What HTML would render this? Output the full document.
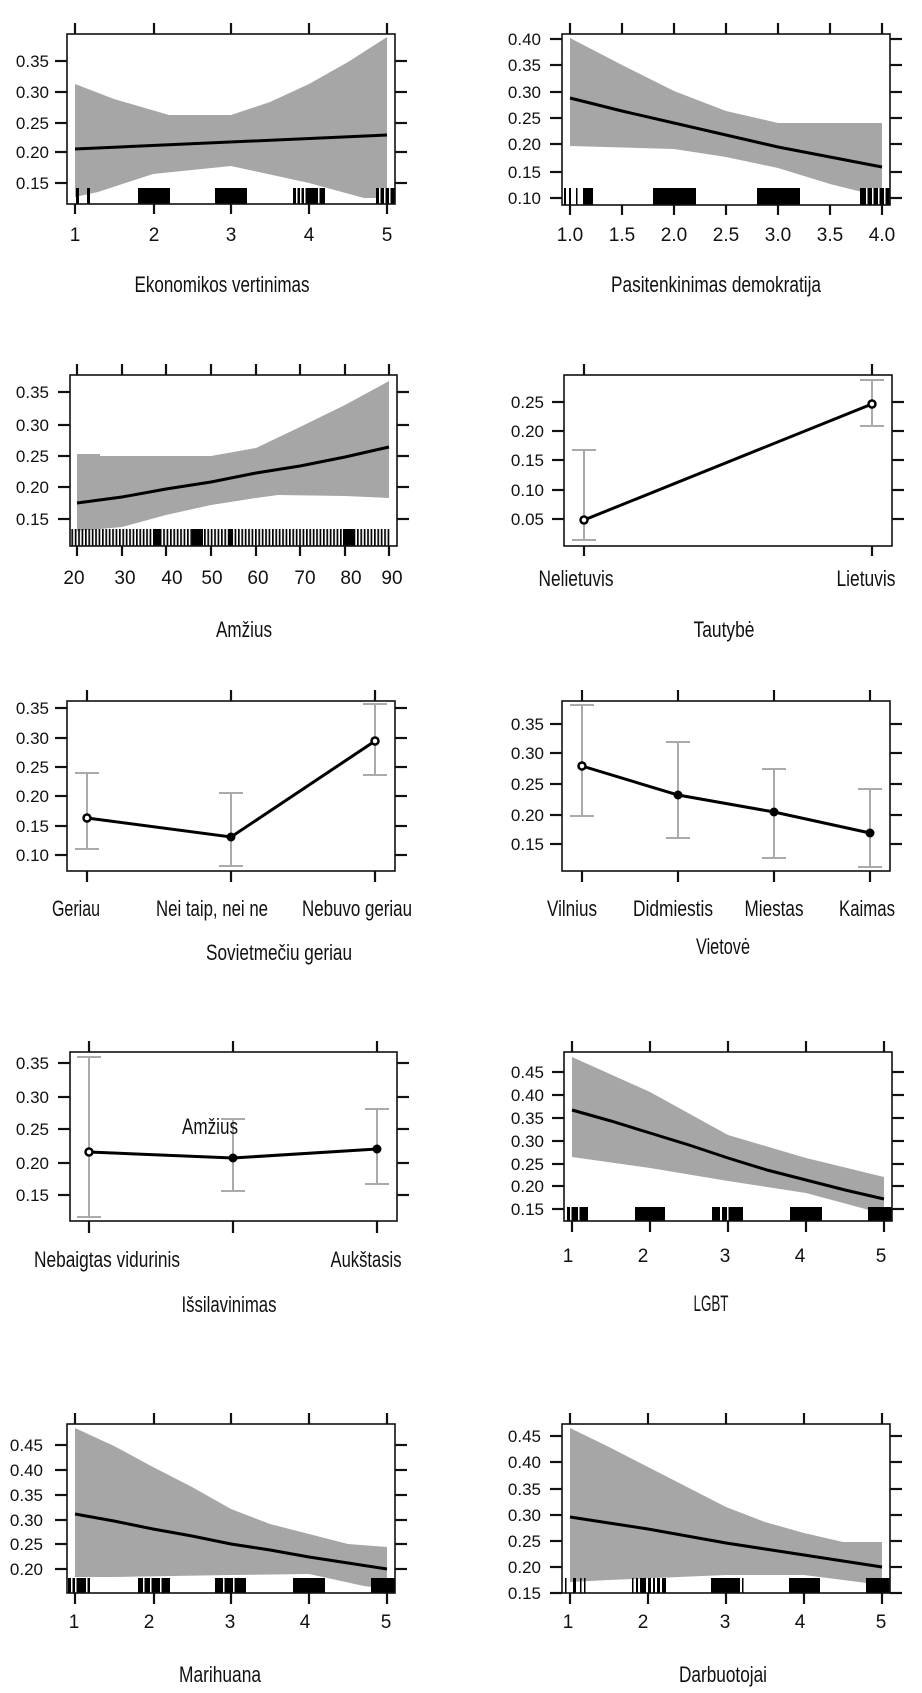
<!DOCTYPE html>
<html><head><meta charset="utf-8"><style>
html,body{margin:0;padding:0;background:#fff}
svg{display:block}
.t{font-family:"Liberation Sans",Arial,sans-serif;font-size:17px;fill:#111}
.x{font-family:"Liberation Sans",Arial,sans-serif;font-size:19px;fill:#111;text-anchor:middle}
.ti{font-family:"Liberation Sans",Arial,sans-serif;font-size:22px;fill:#111;text-anchor:middle}
.b{fill:none;stroke:#111;stroke-width:1.6}
.k{stroke:#111;stroke-width:2.2}
.band{fill:#a6a6a6;stroke:none}
.ln{fill:none;stroke:#000;stroke-width:3}
.eb{stroke:#aaa;stroke-width:2;fill:none}
.pt{fill:#fff;stroke:#000;stroke-width:2.5}
.ptf{fill:#000;stroke:#000;stroke-width:2}
.r{fill:#000}
</style></head><body>
<svg width="922" height="1693" viewBox="0 0 922 1693" xmlns="http://www.w3.org/2000/svg">
<defs><pattern id="st" x="0" y="0" width="3.4" height="20" patternUnits="userSpaceOnUse"><rect x="0" y="0" width="1.7" height="20" fill="#000"/></pattern></defs>

<!-- Panel 1 -->
<g>
<polygon class="band" points="75,84 114,99 169,115 231,115 270,102 309,84 348,62 387,37 387,198 364,198 309,183 231,166 153,174 98,192 75,197"/>
<polyline class="ln" points="75,149 387,135"/>
<g class="r"><rect x="76" y="188" width="3" height="16"/><rect x="87" y="188" width="3" height="16"/><rect x="138" y="188" width="32" height="16"/><rect x="215" y="188" width="32" height="16"/><rect x="293" y="188" width="32" height="16"/><rect x="376" y="188" width="19" height="16"/></g>
<g fill="#fff"><rect x="296" y="188" width="1.5" height="16"/><rect x="300" y="188" width="1.5" height="16"/><rect x="304" y="188" width="1.5" height="16"/><rect x="318" y="188" width="1.5" height="16"/><rect x="379" y="188" width="1.5" height="16"/><rect x="384" y="188" width="1.5" height="16"/><rect x="389" y="188" width="1.5" height="16"/></g>
<rect class="b" x="67" y="34" width="328" height="170"/>
<g class="k"><line x1="75" y1="23" x2="75" y2="34"/><line x1="154" y1="23" x2="154" y2="34"/><line x1="231" y1="23" x2="231" y2="34"/><line x1="309" y1="23" x2="309" y2="34"/><line x1="387" y1="23" x2="387" y2="34"/>
<line x1="75" y1="204" x2="75" y2="214"/><line x1="154" y1="204" x2="154" y2="214"/><line x1="231" y1="204" x2="231" y2="214"/><line x1="309" y1="204" x2="309" y2="214"/><line x1="387" y1="204" x2="387" y2="214"/>
<line x1="55" y1="61" x2="67" y2="61"/><line x1="55" y1="92" x2="67" y2="92"/><line x1="55" y1="123" x2="67" y2="123"/><line x1="55" y1="152" x2="67" y2="152"/><line x1="55" y1="183" x2="67" y2="183"/>
<line x1="395" y1="61" x2="407" y2="61"/><line x1="395" y1="92" x2="407" y2="92"/><line x1="395" y1="123" x2="407" y2="123"/><line x1="395" y1="152" x2="407" y2="152"/><line x1="395" y1="183" x2="407" y2="183"/></g>
<g class="t" text-anchor="end"><text x="49" y="67">0.35</text><text x="49" y="98">0.30</text><text x="49" y="129">0.25</text><text x="49" y="158">0.20</text><text x="49" y="189">0.15</text></g>
<g class="x"><text x="75" y="241">1</text><text x="154" y="241">2</text><text x="231" y="241">3</text><text x="309" y="241">4</text><text x="387" y="241">5</text></g>
<text class="ti" x="222" y="292" textLength="175" lengthAdjust="spacingAndGlyphs">Ekonomikos vertinimas</text>
</g>

<!-- Panel 2 -->
<g>
<polygon class="band" points="570,38 622,65 674,91 726,111 778,123 882,123 882,197 830,184 778,168 726,157 674,149 570,146"/>
<polyline class="ln" points="570,98 622,111 674,123 726,135 778,147 830,157 882,167"/>
<g class="r"><rect x="564" y="188" width="2" height="17"/><rect x="569" y="188" width="2" height="17"/><rect x="576" y="188" width="1.5" height="17"/><rect x="583" y="188" width="10" height="17"/><rect x="653" y="188" width="43" height="17"/><rect x="757" y="188" width="43" height="17"/><rect x="860" y="188" width="30" height="17"/></g>
<g fill="#fff"><rect x="866" y="188" width="1.5" height="17"/><rect x="872" y="188" width="1.5" height="17"/><rect x="878" y="188" width="1.5" height="17"/><rect x="884" y="188" width="1.5" height="17"/></g>
<rect class="b" x="562" y="34" width="328" height="171"/>
<g class="k"><line x1="570" y1="23" x2="570" y2="34"/><line x1="622" y1="23" x2="622" y2="34"/><line x1="674" y1="23" x2="674" y2="34"/><line x1="726" y1="23" x2="726" y2="34"/><line x1="778" y1="23" x2="778" y2="34"/><line x1="830" y1="23" x2="830" y2="34"/><line x1="882" y1="23" x2="882" y2="34"/>
<line x1="570" y1="205" x2="570" y2="215"/><line x1="622" y1="205" x2="622" y2="215"/><line x1="674" y1="205" x2="674" y2="215"/><line x1="726" y1="205" x2="726" y2="215"/><line x1="778" y1="205" x2="778" y2="215"/><line x1="830" y1="205" x2="830" y2="215"/><line x1="882" y1="205" x2="882" y2="215"/>
<line x1="550" y1="39" x2="562" y2="39"/><line x1="550" y1="65" x2="562" y2="65"/><line x1="550" y1="92" x2="562" y2="92"/><line x1="550" y1="118" x2="562" y2="118"/><line x1="550" y1="144" x2="562" y2="144"/><line x1="550" y1="172" x2="562" y2="172"/><line x1="550" y1="198" x2="562" y2="198"/>
<line x1="890" y1="39" x2="902" y2="39"/><line x1="890" y1="65" x2="902" y2="65"/><line x1="890" y1="92" x2="902" y2="92"/><line x1="890" y1="118" x2="902" y2="118"/><line x1="890" y1="144" x2="902" y2="144"/><line x1="890" y1="172" x2="902" y2="172"/><line x1="890" y1="198" x2="902" y2="198"/></g>
<g class="t" text-anchor="end"><text x="541" y="45">0.40</text><text x="541" y="71">0.35</text><text x="541" y="98">0.30</text><text x="541" y="124">0.25</text><text x="541" y="150">0.20</text><text x="541" y="178">0.15</text><text x="541" y="204">0.10</text></g>
<g class="x"><text x="570" y="241">1.0</text><text x="622" y="241">1.5</text><text x="674" y="241">2.0</text><text x="726" y="241">2.5</text><text x="778" y="241">3.0</text><text x="830" y="241">3.5</text><text x="882" y="241">4.0</text></g>
<text class="ti" x="716" y="292" textLength="210" lengthAdjust="spacingAndGlyphs">Pasitenkinimas demokratija</text>
</g>

<!-- Panel 3 -->
<g>
<polygon class="band" points="77,454 100,454 100,456 122,456 211,456 256,448 300,427 345,405 389,381 389,498 345,496 278,495 256,498 211,505 166,515 122,527 77,531"/>
<polyline class="ln" points="77,503 122,497 166,489 211,482 256,473 300,466 345,457 389,447"/>
<rect x="71" y="529" width="320" height="17" fill="url(#st)"/>
<g class="r"><rect x="154" y="529" width="7" height="17"/><rect x="192" y="529" width="11" height="17"/><rect x="228" y="529" width="5" height="17"/><rect x="343" y="529" width="12" height="17"/></g>
<rect class="b" x="70" y="375" width="327" height="171"/>
<g class="k"><line x1="77" y1="364" x2="77" y2="375"/><line x1="122" y1="364" x2="122" y2="375"/><line x1="166" y1="364" x2="166" y2="375"/><line x1="211" y1="364" x2="211" y2="375"/><line x1="256" y1="364" x2="256" y2="375"/><line x1="300" y1="364" x2="300" y2="375"/><line x1="345" y1="364" x2="345" y2="375"/><line x1="389" y1="364" x2="389" y2="375"/>
<line x1="77" y1="546" x2="77" y2="556"/><line x1="122" y1="546" x2="122" y2="556"/><line x1="166" y1="546" x2="166" y2="556"/><line x1="211" y1="546" x2="211" y2="556"/><line x1="256" y1="546" x2="256" y2="556"/><line x1="300" y1="546" x2="300" y2="556"/><line x1="345" y1="546" x2="345" y2="556"/><line x1="389" y1="546" x2="389" y2="556"/>
<line x1="58" y1="392" x2="70" y2="392"/><line x1="58" y1="425" x2="70" y2="425"/><line x1="58" y1="456" x2="70" y2="456"/><line x1="58" y1="487" x2="70" y2="487"/><line x1="58" y1="519" x2="70" y2="519"/>
<line x1="397" y1="392" x2="409" y2="392"/><line x1="397" y1="425" x2="409" y2="425"/><line x1="397" y1="456" x2="409" y2="456"/><line x1="397" y1="487" x2="409" y2="487"/><line x1="397" y1="519" x2="409" y2="519"/></g>
<g class="t" text-anchor="end"><text x="49" y="398">0.35</text><text x="49" y="431">0.30</text><text x="49" y="462">0.25</text><text x="49" y="493">0.20</text><text x="49" y="525">0.15</text></g>
<g class="x"><text x="74" y="584">20</text><text x="125" y="584">30</text><text x="172" y="584">40</text><text x="212" y="584">50</text><text x="258" y="584">60</text><text x="305" y="584">70</text><text x="351" y="584">80</text><text x="392" y="584">90</text></g>
<text class="ti" x="244" y="637" textLength="56" lengthAdjust="spacingAndGlyphs">Amžius</text>
</g>

<!-- Panel 4 -->
<g>
<rect class="b" x="564" y="375" width="328" height="171"/>
<g class="eb"><line x1="584" y1="450" x2="584" y2="540"/><line x1="572" y1="450" x2="596" y2="450"/><line x1="572" y1="540" x2="596" y2="540"/>
<line x1="872" y1="380" x2="872" y2="426"/><line x1="860" y1="380" x2="884" y2="380"/><line x1="860" y1="426" x2="884" y2="426"/></g>
<polyline class="ln" points="584,520 872,404"/>
<circle class="pt" cx="584" cy="520" r="3.5"/><circle class="pt" cx="872" cy="404" r="3.5"/>
<g class="k"><line x1="584" y1="364" x2="584" y2="375"/><line x1="872" y1="364" x2="872" y2="375"/><line x1="584" y1="546" x2="584" y2="556"/><line x1="872" y1="546" x2="872" y2="556"/>
<line x1="552" y1="402" x2="564" y2="402"/><line x1="552" y1="431" x2="564" y2="431"/><line x1="552" y1="460" x2="564" y2="460"/><line x1="552" y1="490" x2="564" y2="490"/><line x1="552" y1="519" x2="564" y2="519"/>
<line x1="892" y1="402" x2="904" y2="402"/><line x1="892" y1="431" x2="904" y2="431"/><line x1="892" y1="460" x2="904" y2="460"/><line x1="892" y1="490" x2="904" y2="490"/><line x1="892" y1="519" x2="904" y2="519"/></g>
<g class="t" text-anchor="end"><text x="544" y="408">0.25</text><text x="544" y="437">0.20</text><text x="544" y="466">0.15</text><text x="544" y="496">0.10</text><text x="544" y="525">0.05</text></g>
<text class="ti" x="576" y="586" textLength="75" lengthAdjust="spacingAndGlyphs">Nelietuvis</text>
<text class="ti" x="866" y="586" textLength="59" lengthAdjust="spacingAndGlyphs">Lietuvis</text>
<text class="ti" x="724" y="637" textLength="61" lengthAdjust="spacingAndGlyphs">Tautybė</text>
</g>

<!-- Panel 5 -->
<g>
<rect class="b" x="67" y="701" width="328" height="170"/>
<g class="eb"><line x1="87" y1="773" x2="87" y2="849"/><line x1="75" y1="773" x2="99" y2="773"/><line x1="75" y1="849" x2="99" y2="849"/>
<line x1="231" y1="793" x2="231" y2="866"/><line x1="219" y1="793" x2="243" y2="793"/><line x1="219" y1="866" x2="243" y2="866"/>
<line x1="375" y1="704" x2="375" y2="775"/><line x1="363" y1="704" x2="387" y2="704"/><line x1="363" y1="775" x2="387" y2="775"/></g>
<polyline class="ln" points="87,818 231,837 375,741"/>
<circle class="pt" cx="87" cy="818" r="3.5"/><circle class="ptf" cx="231" cy="837" r="3.5"/><circle class="pt" cx="375" cy="741" r="3.5"/>
<g class="k"><line x1="87" y1="690" x2="87" y2="701"/><line x1="231" y1="690" x2="231" y2="701"/><line x1="375" y1="690" x2="375" y2="701"/><line x1="87" y1="871" x2="87" y2="882"/><line x1="231" y1="871" x2="231" y2="882"/><line x1="375" y1="871" x2="375" y2="882"/>
<line x1="55" y1="708" x2="67" y2="708"/><line x1="55" y1="738" x2="67" y2="738"/><line x1="55" y1="767" x2="67" y2="767"/><line x1="55" y1="796" x2="67" y2="796"/><line x1="55" y1="826" x2="67" y2="826"/><line x1="55" y1="855" x2="67" y2="855"/>
<line x1="395" y1="708" x2="407" y2="708"/><line x1="395" y1="738" x2="407" y2="738"/><line x1="395" y1="767" x2="407" y2="767"/><line x1="395" y1="796" x2="407" y2="796"/><line x1="395" y1="826" x2="407" y2="826"/><line x1="395" y1="855" x2="407" y2="855"/></g>
<g class="t" text-anchor="end"><text x="49" y="714">0.35</text><text x="49" y="744">0.30</text><text x="49" y="773">0.25</text><text x="49" y="802">0.20</text><text x="49" y="832">0.15</text><text x="49" y="861">0.10</text></g>
<text class="ti" x="76" y="916" textLength="48" lengthAdjust="spacingAndGlyphs">Geriau</text>
<text class="ti" x="212" y="916" textLength="112" lengthAdjust="spacingAndGlyphs">Nei taip, nei ne</text>
<text class="ti" x="357" y="916" textLength="110" lengthAdjust="spacingAndGlyphs">Nebuvo geriau</text>
<text class="ti" x="279" y="960" textLength="146" lengthAdjust="spacingAndGlyphs">Sovietmečiu geriau</text>
</g>

<!-- Panel 6 -->
<g>
<rect class="b" x="562" y="701" width="328" height="170"/>
<g class="eb"><line x1="582" y1="705" x2="582" y2="816"/><line x1="570" y1="705" x2="594" y2="705"/><line x1="570" y1="816" x2="594" y2="816"/>
<line x1="678" y1="742" x2="678" y2="838"/><line x1="666" y1="742" x2="690" y2="742"/><line x1="666" y1="838" x2="690" y2="838"/>
<line x1="774" y1="769" x2="774" y2="858"/><line x1="762" y1="769" x2="786" y2="769"/><line x1="762" y1="858" x2="786" y2="858"/>
<line x1="870" y1="789" x2="870" y2="867"/><line x1="858" y1="789" x2="882" y2="789"/><line x1="858" y1="867" x2="882" y2="867"/></g>
<polyline class="ln" points="582,766 678,795 774,812 870,833"/>
<circle class="pt" cx="582" cy="766" r="3.5"/><circle class="ptf" cx="678" cy="795" r="3.5"/><circle class="ptf" cx="774" cy="812" r="3.5"/><circle class="ptf" cx="870" cy="833" r="3.5"/>
<g class="k"><line x1="582" y1="690" x2="582" y2="701"/><line x1="678" y1="690" x2="678" y2="701"/><line x1="774" y1="690" x2="774" y2="701"/><line x1="870" y1="690" x2="870" y2="701"/>
<line x1="582" y1="871" x2="582" y2="882"/><line x1="678" y1="871" x2="678" y2="882"/><line x1="774" y1="871" x2="774" y2="882"/><line x1="870" y1="871" x2="870" y2="882"/>
<line x1="550" y1="724" x2="562" y2="724"/><line x1="550" y1="753" x2="562" y2="753"/><line x1="550" y1="784" x2="562" y2="784"/><line x1="550" y1="815" x2="562" y2="815"/><line x1="550" y1="844" x2="562" y2="844"/>
<line x1="890" y1="724" x2="902" y2="724"/><line x1="890" y1="753" x2="902" y2="753"/><line x1="890" y1="784" x2="902" y2="784"/><line x1="890" y1="815" x2="902" y2="815"/><line x1="890" y1="844" x2="902" y2="844"/></g>
<g class="t" text-anchor="end"><text x="544" y="730">0.35</text><text x="544" y="759">0.30</text><text x="544" y="790">0.25</text><text x="544" y="821">0.20</text><text x="544" y="850">0.15</text></g>
<text class="ti" x="572" y="916" textLength="50" lengthAdjust="spacingAndGlyphs">Vilnius</text>
<text class="ti" x="673" y="916" textLength="80" lengthAdjust="spacingAndGlyphs">Didmiestis</text>
<text class="ti" x="774" y="916" textLength="59" lengthAdjust="spacingAndGlyphs">Miestas</text>
<text class="ti" x="867" y="916" textLength="56" lengthAdjust="spacingAndGlyphs">Kaimas</text>
<text class="ti" x="723" y="954" textLength="54" lengthAdjust="spacingAndGlyphs">Vietovė</text>
</g>

<!-- Panel 7 -->
<g>
<rect class="b" x="70" y="1052" width="327" height="169"/>
<g class="eb"><line x1="89" y1="1057" x2="89" y2="1217"/><line x1="77" y1="1057" x2="101" y2="1057"/><line x1="77" y1="1217" x2="101" y2="1217"/>
<line x1="233" y1="1119" x2="233" y2="1191"/><line x1="221" y1="1119" x2="245" y2="1119"/><line x1="221" y1="1191" x2="245" y2="1191"/>
<line x1="377" y1="1109" x2="377" y2="1184"/><line x1="365" y1="1109" x2="389" y2="1109"/><line x1="365" y1="1184" x2="389" y2="1184"/></g>
<text class="ti" x="210" y="1134" textLength="56" lengthAdjust="spacingAndGlyphs">Amžius</text>
<polyline class="ln" points="89,1152 233,1158 377,1149"/>
<circle class="pt" cx="89" cy="1152" r="3.5"/><circle class="ptf" cx="233" cy="1158" r="3.5"/><circle class="ptf" cx="377" cy="1149" r="3.5"/>
<g class="k"><line x1="89" y1="1041" x2="89" y2="1052"/><line x1="233" y1="1041" x2="233" y2="1052"/><line x1="377" y1="1041" x2="377" y2="1052"/>
<line x1="89" y1="1221" x2="89" y2="1233"/><line x1="233" y1="1221" x2="233" y2="1233"/><line x1="377" y1="1221" x2="377" y2="1233"/>
<line x1="58" y1="1063" x2="70" y2="1063"/><line x1="58" y1="1097" x2="70" y2="1097"/><line x1="58" y1="1129" x2="70" y2="1129"/><line x1="58" y1="1163" x2="70" y2="1163"/><line x1="58" y1="1195" x2="70" y2="1195"/>
<line x1="397" y1="1063" x2="409" y2="1063"/><line x1="397" y1="1097" x2="409" y2="1097"/><line x1="397" y1="1129" x2="409" y2="1129"/><line x1="397" y1="1163" x2="409" y2="1163"/><line x1="397" y1="1195" x2="409" y2="1195"/></g>
<g class="t" text-anchor="end"><text x="49" y="1069">0.35</text><text x="49" y="1103">0.30</text><text x="49" y="1135">0.25</text><text x="49" y="1169">0.20</text><text x="49" y="1201">0.15</text></g>
<text class="ti" x="107" y="1267" textLength="146" lengthAdjust="spacingAndGlyphs">Nebaigtas vidurinis</text>
<text class="ti" x="366" y="1267" textLength="71" lengthAdjust="spacingAndGlyphs">Aukštasis</text>
<text class="ti" x="229" y="1312" textLength="95" lengthAdjust="spacingAndGlyphs">Išsilavinimas</text>
</g>

<!-- Panel 8 -->
<g>
<polygon class="band" points="572,1057 650,1092 728,1135 806,1158 884,1177 884,1214 806,1193 728,1181 650,1168 572,1157"/>
<polyline class="ln" points="572,1110 611,1121 650,1133 689,1145 728,1158 767,1170 806,1180 845,1190 884,1199"/>
<g class="r"><rect x="567" y="1207" width="21" height="14"/><rect x="635" y="1207" width="30" height="14"/><rect x="712" y="1207" width="31" height="14"/><rect x="790" y="1207" width="32" height="14"/><rect x="868" y="1207" width="24" height="14"/></g>
<g fill="#fff"><rect x="570" y="1207" width="1.5" height="14"/><rect x="578" y="1207" width="1.5" height="14"/><rect x="720" y="1207" width="2" height="14"/><rect x="727" y="1207" width="1.5" height="14"/></g>
<rect class="b" x="564" y="1052" width="328" height="169"/>
<g class="k"><line x1="572" y1="1041" x2="572" y2="1052"/><line x1="650" y1="1041" x2="650" y2="1052"/><line x1="728" y1="1041" x2="728" y2="1052"/><line x1="806" y1="1041" x2="806" y2="1052"/><line x1="884" y1="1041" x2="884" y2="1052"/>
<line x1="572" y1="1221" x2="572" y2="1232"/><line x1="650" y1="1221" x2="650" y2="1232"/><line x1="728" y1="1221" x2="728" y2="1232"/><line x1="806" y1="1221" x2="806" y2="1232"/><line x1="884" y1="1221" x2="884" y2="1232"/>
<line x1="552" y1="1072" x2="564" y2="1072"/><line x1="552" y1="1095" x2="564" y2="1095"/><line x1="552" y1="1118" x2="564" y2="1118"/><line x1="552" y1="1141" x2="564" y2="1141"/><line x1="552" y1="1164" x2="564" y2="1164"/><line x1="552" y1="1186" x2="564" y2="1186"/><line x1="552" y1="1209" x2="564" y2="1209"/>
<line x1="892" y1="1072" x2="904" y2="1072"/><line x1="892" y1="1095" x2="904" y2="1095"/><line x1="892" y1="1118" x2="904" y2="1118"/><line x1="892" y1="1141" x2="904" y2="1141"/><line x1="892" y1="1164" x2="904" y2="1164"/><line x1="892" y1="1186" x2="904" y2="1186"/><line x1="892" y1="1209" x2="904" y2="1209"/></g>
<g class="t" text-anchor="end"><text x="544" y="1078">0.45</text><text x="544" y="1101">0.40</text><text x="544" y="1124">0.35</text><text x="544" y="1147">0.30</text><text x="544" y="1170">0.25</text><text x="544" y="1192">0.20</text><text x="544" y="1215">0.15</text></g>
<g class="x"><text x="568" y="1262">1</text><text x="643" y="1262">2</text><text x="725" y="1262">3</text><text x="800" y="1262">4</text><text x="881" y="1262">5</text></g>
<text class="ti" x="711" y="1311" textLength="35" lengthAdjust="spacingAndGlyphs">LGBT</text>
</g>

<!-- Panel 9 -->
<g>
<polygon class="band" points="75,1428 114,1446 153,1467 192,1487 231,1509 270,1524 309,1534 348,1544 387,1547 387,1589 364,1586 309,1574 231,1575 114,1577 75,1577"/>
<polyline class="ln" points="75,1514 114,1521 153,1529 192,1536 231,1544 270,1550 309,1557 348,1563 387,1569"/>
<g class="r"><rect x="68" y="1578" width="22" height="15"/><rect x="138" y="1578" width="32" height="15"/><rect x="215" y="1578" width="31" height="15"/><rect x="293" y="1578" width="32" height="15"/><rect x="371" y="1578" width="24" height="15"/></g>
<g fill="#fff"><rect x="71" y="1578" width="1.5" height="15"/><rect x="75" y="1578" width="1.5" height="15"/><rect x="86" y="1578" width="1.5" height="15"/><rect x="143" y="1578" width="1.5" height="15"/><rect x="150" y="1578" width="1.5" height="15"/><rect x="160" y="1578" width="1.5" height="15"/><rect x="223" y="1578" width="1.5" height="15"/><rect x="233" y="1578" width="1.5" height="15"/></g>
<rect class="b" x="67" y="1424" width="328" height="169"/>
<g class="k"><line x1="75" y1="1413" x2="75" y2="1424"/><line x1="154" y1="1413" x2="154" y2="1424"/><line x1="231" y1="1413" x2="231" y2="1424"/><line x1="309" y1="1413" x2="309" y2="1424"/><line x1="387" y1="1413" x2="387" y2="1424"/>
<line x1="75" y1="1593" x2="75" y2="1604"/><line x1="154" y1="1593" x2="154" y2="1604"/><line x1="231" y1="1593" x2="231" y2="1604"/><line x1="309" y1="1593" x2="309" y2="1604"/><line x1="387" y1="1593" x2="387" y2="1604"/>
<line x1="55" y1="1445" x2="67" y2="1445"/><line x1="55" y1="1470" x2="67" y2="1470"/><line x1="55" y1="1495" x2="67" y2="1495"/><line x1="55" y1="1520" x2="67" y2="1520"/><line x1="55" y1="1544" x2="67" y2="1544"/><line x1="55" y1="1569" x2="67" y2="1569"/>
<line x1="395" y1="1445" x2="407" y2="1445"/><line x1="395" y1="1470" x2="407" y2="1470"/><line x1="395" y1="1495" x2="407" y2="1495"/><line x1="395" y1="1520" x2="407" y2="1520"/><line x1="395" y1="1544" x2="407" y2="1544"/><line x1="395" y1="1569" x2="407" y2="1569"/></g>
<g class="t" text-anchor="end"><text x="43" y="1451">0.45</text><text x="43" y="1476">0.40</text><text x="43" y="1501">0.35</text><text x="43" y="1526">0.30</text><text x="43" y="1550">0.25</text><text x="43" y="1575">0.20</text></g>
<g class="x"><text x="74" y="1628">1</text><text x="149" y="1628">2</text><text x="230" y="1628">3</text><text x="305" y="1628">4</text><text x="386" y="1628">5</text></g>
<text class="ti" x="220" y="1682" textLength="82" lengthAdjust="spacingAndGlyphs">Marihuana</text>
</g>

<!-- Panel 10 -->
<g>
<polygon class="band" points="570,1428 609,1447 648,1467 687,1487 726,1507 765,1522 804,1533 843,1542 882,1542 882,1585 859,1582 804,1575 726,1575 609,1580 570,1582"/>
<polyline class="ln" points="570,1517 609,1523 648,1529 687,1536 726,1543 765,1549 804,1555 843,1561 882,1567"/>
<g class="r"><rect x="565" y="1578" width="1.5" height="15"/><rect x="573" y="1578" width="3" height="15"/><rect x="580" y="1578" width="1.5" height="15"/><rect x="584" y="1578" width="1.5" height="15"/>
<rect x="632" y="1578" width="1.5" height="15"/><rect x="636" y="1578" width="2" height="15"/><rect x="640" y="1578" width="6" height="15"/><rect x="648" y="1578" width="3" height="15"/><rect x="653" y="1578" width="2" height="15"/><rect x="657" y="1578" width="3" height="15"/><rect x="662" y="1578" width="4" height="15"/>
<rect x="711" y="1578" width="29" height="15"/><rect x="742" y="1578" width="1.5" height="15"/><rect x="789" y="1578" width="31" height="15"/><rect x="866" y="1578" width="24" height="15"/></g>
<rect class="b" x="562" y="1424" width="328" height="169"/>
<g class="k"><line x1="570" y1="1413" x2="570" y2="1424"/><line x1="648" y1="1413" x2="648" y2="1424"/><line x1="726" y1="1413" x2="726" y2="1424"/><line x1="804" y1="1413" x2="804" y2="1424"/><line x1="882" y1="1413" x2="882" y2="1424"/>
<line x1="570" y1="1593" x2="570" y2="1604"/><line x1="648" y1="1593" x2="648" y2="1604"/><line x1="726" y1="1593" x2="726" y2="1604"/><line x1="804" y1="1593" x2="804" y2="1604"/><line x1="882" y1="1593" x2="882" y2="1604"/>
<line x1="550" y1="1436" x2="562" y2="1436"/><line x1="550" y1="1462" x2="562" y2="1462"/><line x1="550" y1="1489" x2="562" y2="1489"/><line x1="550" y1="1515" x2="562" y2="1515"/><line x1="550" y1="1541" x2="562" y2="1541"/><line x1="550" y1="1567" x2="562" y2="1567"/><line x1="550" y1="1593" x2="562" y2="1593"/>
<line x1="890" y1="1436" x2="902" y2="1436"/><line x1="890" y1="1462" x2="902" y2="1462"/><line x1="890" y1="1489" x2="902" y2="1489"/><line x1="890" y1="1515" x2="902" y2="1515"/><line x1="890" y1="1541" x2="902" y2="1541"/><line x1="890" y1="1567" x2="902" y2="1567"/><line x1="890" y1="1593" x2="902" y2="1593"/></g>
<g class="t" text-anchor="end"><text x="541" y="1442">0.45</text><text x="541" y="1468">0.40</text><text x="541" y="1495">0.35</text><text x="541" y="1521">0.30</text><text x="541" y="1547">0.25</text><text x="541" y="1573">0.20</text><text x="541" y="1599">0.15</text></g>
<g class="x"><text x="568" y="1628">1</text><text x="643" y="1628">2</text><text x="725" y="1628">3</text><text x="800" y="1628">4</text><text x="881" y="1628">5</text></g>
<text class="ti" x="723" y="1682" textLength="88" lengthAdjust="spacingAndGlyphs">Darbuotojai</text>
</g>
</svg>
</body></html>
